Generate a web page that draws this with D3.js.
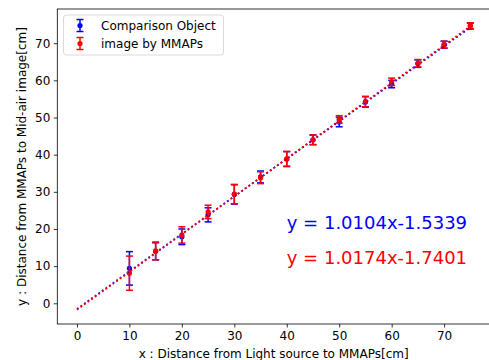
<!DOCTYPE html>
<html>
<head>
<meta charset="utf-8">
<script src="https://cdn.jsdelivr.net/npm/d3@7"></script>
<style>
  body { margin: 0; background: #fff; }
  svg { display: block; font-family: "DejaVu Sans", sans-serif; }
</style>
</head>
<body>
<svg id="chart" width="489" height="360"></svg>
<script>
const xs = [10, 15, 20, 25, 30, 35, 40, 45, 50, 55, 60, 65, 70, 75]
const blueY = [9.4, 14.0, 17.9, 23.8, 29.3, 34.0, 38.8, 44.0, 48.8, 54.2, 59.0, 64.5, 69.6, 74.6]
const blueErr = [4.5, 2.3, 2.1, 1.9, 2.6, 1.6, 2.0, 1.3, 1.3, 1.4, 1.0, 1.0, 0.95, 0.8]
const redY = [8.1, 14.1, 18.4, 24.6, 29.4, 33.8, 38.9, 44.0, 49.5, 54.3, 59.6, 64.6, 69.6, 74.7]
const redErr = [4.6, 2.4, 2.2, 1.8, 2.6, 1.6, 2.0, 1.3, 1.0, 1.4, 1.0, 1.0, 0.9, 0.8]
const fitBlue = [1.0104, -1.5339]
const fitRed = [1.0174, -1.7401]
const fitRange = [0, 75]
const xTicks = [0, 10, 20, 30, 40, 50, 60, 70]
const yTicks = [0, 10, 20, 30, 40, 50, 60, 70]
const seriesNames = ["Comparison Object", "image by MMAPs"]

const svg = d3.select("#chart")
const pLeft = 57.3, pRight = 490, pTop = 9, pBottom = 324

const x = d3.scaleLinear().domain([-3.75, 78.75]).range([pLeft, pRight])
const y = d3.scaleLinear().domain([-5.57, 79.2]).range([pBottom, pTop])

// axes
const xAxis = svg.append("g")
  .attr("transform", `translate(0,${pBottom})`)
  .call(d3.axisBottom(x).tickValues(xTicks).tickSize(3.5).tickPadding(3.5).tickFormat(d3.format("d")))
const yAxis = svg.append("g")
  .attr("transform", `translate(${pLeft},0)`)
  .call(d3.axisLeft(y).tickValues(yTicks).tickSize(3.5).tickPadding(3.5).tickFormat(d3.format("d")))

for (const g of [xAxis, yAxis]) {
  g.select(".domain").remove()
  g.selectAll("line").attr("stroke", "#000").attr("stroke-width", 0.8)
  g.selectAll("text").attr("fill", "#000").style("font-size", "12px").style("font-family", "DejaVu Sans")
}

// frame
svg.append("rect")
  .attr("x", pLeft).attr("y", pTop)
  .attr("width", pRight - pLeft).attr("height", pBottom - pTop)
  .attr("fill", "none").attr("stroke", "#000").attr("stroke-width", 0.8)

// axis labels
svg.append("text")
  .attr("x", (pLeft + pRight) / 2).attr("y", 358)
  .attr("text-anchor", "middle").style("font-size", "12px")
  .text("x : Distance from Light source to MMAPs[cm]")
svg.append("text")
  .attr("transform", `translate(26,${(pTop + pBottom) / 2}) rotate(-90)`)
  .attr("text-anchor", "middle").style("font-size", "12px")
  .text("y : Distance from MMAPs to Mid-air image[cm]")

function drawErrorbars(vals, errs, color) {
  const g = svg.append("g")
  const pts = xs.map((d, i) => ({ x: d, y: vals[i], e: errs[i] }))
  g.selectAll(".bar").data(pts).enter().append("line")
    .attr("x1", d => x(d.x)).attr("x2", d => x(d.x))
    .attr("y1", d => y(d.y - d.e)).attr("y2", d => y(d.y + d.e))
    .attr("stroke", color).attr("stroke-width", 1.5)
  for (const s of [-1, 1]) {
    g.selectAll(".cap" + s).data(pts).enter().append("line")
      .attr("x1", d => x(d.x) - 3.5).attr("x2", d => x(d.x) + 3.5)
      .attr("y1", d => y(d.y + s * d.e)).attr("y2", d => y(d.y + s * d.e))
      .attr("stroke", color).attr("stroke-width", 1.5)
  }
  g.selectAll("circle").data(pts).enter().append("circle")
    .attr("cx", d => x(d.x)).attr("cy", d => y(d.y))
    .attr("r", 2.6).attr("fill", color)
}

drawErrorbars(blueY, blueErr, "#0000ff")
drawErrorbars(redY, redErr, "#ff0000")

function drawFit(coef, color) {
  const line = d3.line().x(d => x(d)).y(d => y(coef[0] * d + coef[1]))
  svg.append("path")
    .attr("d", line(fitRange))
    .attr("fill", "none").attr("stroke", color).attr("stroke-width", 1.8)
    .attr("stroke-dasharray", "1.8,2.6")
}
drawFit(fitBlue, "#0000ff")
drawFit(fitRed, "#ff0000")

// equations
const fmt = c => `y = ${c[0].toFixed(4)}x${c[1] < 0 ? "-" : "+"}${Math.abs(c[1]).toFixed(4)}`
svg.append("text").attr("x", x(40)).attr("y", y(20))
  .attr("fill", "#0000ff").style("font-size", "18px").text(fmt(fitBlue))
svg.append("text").attr("x", x(40)).attr("y", y(10.6))
  .attr("fill", "#ff0000").style("font-size", "18px").text(fmt(fitRed))

// legend
const legend = svg.append("g")
legend.append("rect")
  .attr("x", 63.5).attr("y", 15).attr("width", 160).attr("height", 40).attr("rx", 3)
  .attr("fill", "#fff").attr("fill-opacity", 0.8).attr("stroke", "#d0d0d0").attr("stroke-width", 0.8)
const legendColors = ["#0000ff", "#ff0000"]
seriesNames.forEach((name, i) => {
  const cy = 25.5 + i * 18
  const c = legendColors[i]
  legend.append("line").attr("x1", 80).attr("x2", 80).attr("y1", cy - 6).attr("y2", cy + 6)
    .attr("stroke", c).attr("stroke-width", 1.5)
  for (const s of [-6, 6]) {
    legend.append("line").attr("x1", 76.5).attr("x2", 83.5).attr("y1", cy + s).attr("y2", cy + s)
      .attr("stroke", c).attr("stroke-width", 1.5)
  }
  legend.append("circle").attr("cx", 80).attr("cy", cy).attr("r", 2.6).attr("fill", c)
  legend.append("text").attr("x", 101).attr("y", cy + 4.3)
    .style("font-size", "12px").attr("fill", "#000").text(name)
})
</script>
</body>
</html>
